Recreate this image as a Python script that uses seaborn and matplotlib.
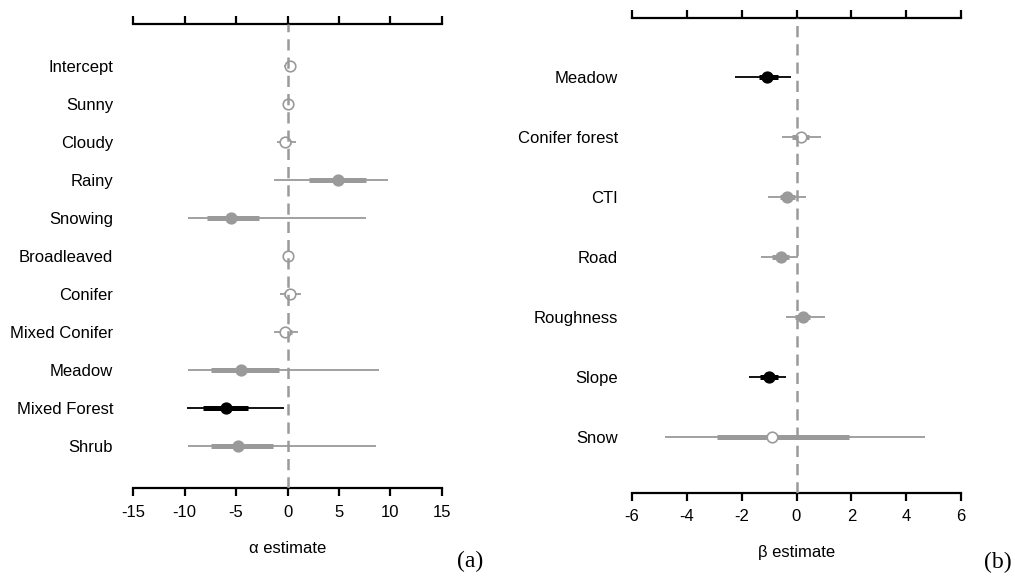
import numpy as np
import pandas as pd
import matplotlib
matplotlib.use("Agg")
import matplotlib.pyplot as plt
import seaborn as sns

# ---------------- data ----------------
alpha_terms = ["Intercept", "Sunny", "Cloudy", "Rainy", "Snowing", "Broadleaved",
               "Conifer", "Mixed Conifer", "Meadow", "Mixed Forest", "Shrub"]
alpha_est = [0.2, 0.0, -0.2, 4.9, -5.5, 0.0, 0.2, -0.2, -4.5, -6.0, -4.8]
alpha_lo95 = [-0.35, -0.25, -1.0, -1.3, -9.7, -0.25, -0.75, -1.3, -9.7, -9.8, -9.7]
alpha_hi95 = [0.8, 0.25, 0.8, 9.8, 7.6, 0.25, 1.3, 1.0, 8.9, -0.35, 8.6]
alpha_lo50 = [-0.1, -0.1, -0.5, 2.1, -7.8, -0.1, -0.3, -0.7, -7.4, -8.2, -7.4]
alpha_hi50 = [0.4, 0.1, 0.3, 7.6, -2.8, 0.1, 0.6, 0.4, -0.8, -3.8, -1.4]
alpha_status = ["open", "open", "open", "gray", "gray", "open",
                "open", "open", "gray", "sig", "gray"]

beta_terms = ["Meadow", "Conifer forest", "CTI", "Road", "Roughness", "Slope", "Snow"]
beta_est = [-1.07, 0.15, -0.35, -0.57, 0.22, -0.99, -0.90]
beta_lo95 = [-2.23, -0.52, -1.05, -1.28, -0.37, -1.74, -4.78]
beta_hi95 = [-0.20, 0.90, 0.34, 0.05, 1.05, -0.38, 4.69]
beta_lo50 = [-1.36, -0.16, -0.62, -0.88, -0.04, -1.34, -2.89]
beta_hi50 = [-0.69, 0.46, -0.07, -0.29, 0.50, -0.69, 1.91]
beta_status = ["sig", "open", "gray", "gray", "gray", "sig", "open"]

alpha_ticks = [-15, -10, -5, 0, 5, 10, 15]
beta_ticks = [-6, -4, -2, 0, 2, 4, 6]

# ---------------- style ----------------
sns.set_theme(style="white")
plt.rcParams["font.family"] = ["Liberation Sans", "DejaVu Sans"]

GRAY = "#9a9a9a"
line_col = {"sig": "black", "gray": GRAY, "open": GRAY}

W, H = 1015, 577
fig = plt.figure(figsize=(W / 100, H / 100), dpi=100)


def panel(ax, terms, est, lo95, hi95, lo50, hi50, status, ticks, ylim, xlabel, ypad):
    df = pd.DataFrame({"term": terms, "est": est, "lo95": lo95, "hi95": hi95,
                       "lo50": lo50, "hi50": hi50, "status": status})
    df["pos"] = np.arange(len(df))
    cols = [line_col[s] for s in df["status"]]
    ax.hlines(df["pos"], df["lo95"], df["hi95"], colors=cols, linewidth=1.3, zorder=2)
    ax.hlines(df["pos"], df["lo50"], df["hi50"], colors=cols, linewidth=3.6, zorder=3)
    for st, fc, ec in [("sig", "black", "black"), ("gray", GRAY, GRAY), ("open", "white", GRAY)]:
        sub = df[df["status"] == st]
        if len(sub):
            sns.scatterplot(data=sub, x="est", y="pos", ax=ax, s=58, color=fc,
                            edgecolor=ec, linewidth=1.2, zorder=4, legend=False)
    ax.axvline(0, color=GRAY, linewidth=1.8, dashes=(4.5, 2.8), zorder=5)
    ax.set_xlim(ticks[0], ticks[-1])
    ax.set_ylim(*ylim)
    ax.set_xticks(ticks)
    ax.set_xticklabels([str(t) for t in ticks])
    ax.set_yticks(df["pos"])
    ax.set_yticklabels(df["term"])
    for side in ["left", "right"]:
        ax.spines[side].set_visible(False)
    for side in ["top", "bottom"]:
        ax.spines[side].set_visible(True)
        ax.spines[side].set_color("black")
        ax.spines[side].set_linewidth(1.6)
    ax.tick_params(axis="x", which="both", top=True, bottom=True, labeltop=False,
                   direction="out", length=6, width=1.6, color="black",
                   labelsize=12, pad=6, labelcolor="black")
    ax.tick_params(axis="y", left=False, right=False, labelsize=12, pad=ypad,
                   labelcolor="black")
    ax.set_xlabel(xlabel, fontsize=12, labelpad=15, color="black")
    ax.set_ylabel("")
    ax.set_facecolor("white")
    ax.grid(False)


ax1 = fig.add_axes([133.3 / W, 1 - 488.3 / H, (441.7 - 133.3) / W, (488.3 - 24) / H])
panel(ax1, alpha_terms, alpha_est, alpha_lo95, alpha_hi95, alpha_lo50, alpha_hi50,
      alpha_status, alpha_ticks, (11.12, -1.106), "α estimate", 8.5)

ax2 = fig.add_axes([632 / W, 1 - 492.7 / H, 329 / W, (492.7 - 18.3) / H])
panel(ax2, beta_terms, beta_est, beta_lo95, beta_hi95, beta_lo50, beta_hi50,
      beta_status, beta_ticks, (6.93, -0.978), "β estimate", 4.2)

fig.text(470 / W, 1 - 561 / H, "(a)", family=["Liberation Serif", "DejaVu Serif"],
         fontsize=17, ha="center", va="center", color="black")
fig.text(998 / W, 1 - 562 / H, "(b)", family=["Liberation Serif", "DejaVu Serif"],
         fontsize=17, ha="center", va="center", color="black")

fig.savefig("out.png", dpi=100, facecolor="white")
